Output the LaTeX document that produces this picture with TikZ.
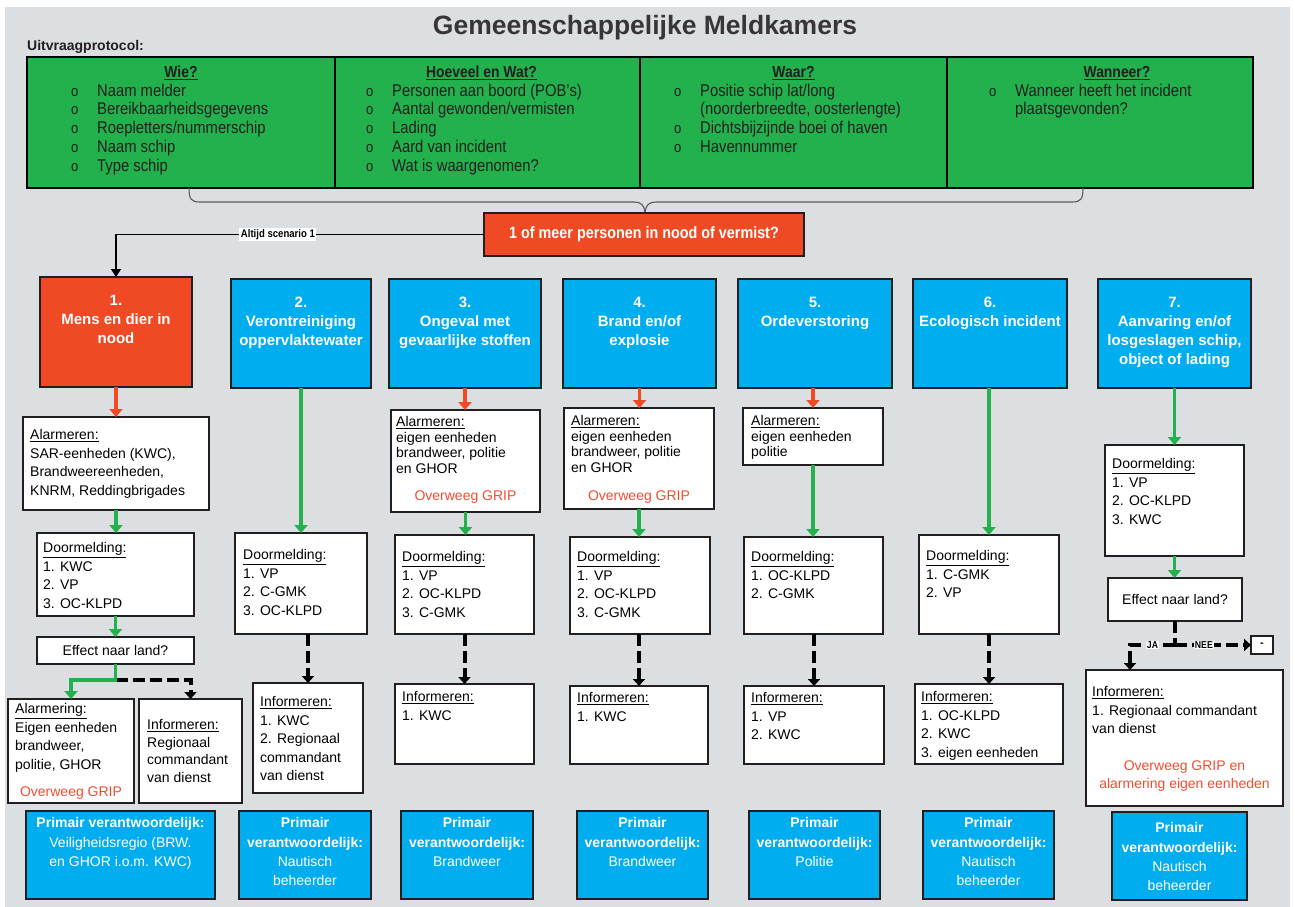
\documentclass[tikz,border=0pt]{standalone}
\usepackage{fontspec}
\setmainfont{Liberation Sans}
\newfontfamily\cnd[FakeStretch=0.87]{Liberation Sans}
\usetikzlibrary{arrows.meta}
\definecolor{bg}{HTML}{DCDFE2}
\definecolor{grn}{HTML}{22B14C}
\definecolor{org}{HTML}{EF4A24}
\definecolor{blu}{HTML}{00ADEE}
\definecolor{rtx}{HTML}{F04E30}
\definecolor{dk}{HTML}{231F20}
\newcommand\bx[6]{\node[#2,minimum width={(#5-#3)*1pt},minimum height={(#6-#4)*1pt}] (#1) at ({(#3+#5)/2},{(#4+#6)/2}) {};}
\newcommand\itm[1]{\makebox[26pt][l]{\fontsize{15}{15}\selectfont o}#1}
\tikzset{
  wbox/.style={draw=dk,line width=1.3pt,fill=white,inner sep=0pt,outer sep=0pt},
  obox/.style={draw=dk,line width=1.5pt,fill=org,inner sep=0pt,outer sep=0pt},
  bbox/.style={draw=dk,line width=1.5pt,fill=blu,inner sep=0pt,outer sep=0pt},
  gcell/.style={draw=black,line width=1.4pt,fill=grn,inner sep=0pt,outer sep=0pt},
  txt/.style={inner sep=0pt,align=left,anchor=north west,text=black,font=\fontsize{14}{18.5}\selectfont},
  tighttxt/.style={font=\fontsize{14}{15.5}\selectfont},
  redtx/.style={inner sep=0pt,align=center,text=rtx,font=\fontsize{14}{18}\selectfont},
  stitle/.style={inner sep=0pt,align=center,anchor=north,text=white,font=\bfseries\fontsize{15}{19.3}\selectfont},
  ptxt/.style={inner sep=0pt,align=center,anchor=north,text=white,font=\fontsize{14}{19.3}\selectfont},
  hd/.style={inner sep=0pt,anchor=base,text=dk,font=\cnd\bfseries\fontsize{16}{18}\selectfont},
  items/.style={inner sep=0pt,align=left,anchor=north west,text=dk,font=\cnd\fontsize{17}{18.75}\selectfont},
  garr/.style={draw=grn,line width=3.6pt,-{Triangle[width=13pt,length=8pt]}},
  rarr/.style={draw=org,line width=3.6pt,-{Triangle[width=13pt,length=8pt]}},
  darr/.style={draw=black,line width=4pt,dash pattern=on 12pt off 5pt,-{Triangle[width=12pt,length=7pt]}},
  dln/.style={draw=black,line width=4pt,dash pattern=on 12pt off 5pt},
  tarr/.style={draw=black,line width=1.3pt,-{Triangle[width=10pt,length=8pt]}},
  lbl/.style={fill=white,inner sep=1pt,text=black,font=\cnd\bfseries\fontsize{10}{10}\selectfont},
}
\begin{document}
\begin{tikzpicture}[x=1pt,y=-1pt]
\useasboundingbox (0,0) rectangle (1295,907);
\fill[white] (0,0) rectangle (1295,907);
\fill[bg] (5,7) rectangle (1290,907);
\node[anchor=base,inner sep=0pt,text=dk!90,font=\bfseries\fontsize{26.5}{30}\selectfont] (title) at (645,35) {Gemeenschappelijke Meldkamers};
\node[anchor=base west,inner sep=0pt,text=dk,font=\bfseries\fontsize{14}{16}\selectfont] (uvp) at (27,51) {Uitvraagprotocol:};
% table
\bx{c1}{gcell}{27}{57}{335}{188}
\bx{c2}{gcell}{335}{57}{640}{188}
\bx{c3}{gcell}{640}{57}{947}{188}
\bx{c4}{gcell}{947}{57}{1253}{188}
\node[hd] (h1) at ([yshift=-20.5pt]c1.north) {\underline{Wie?}};
\node[hd] (h2) at ([xshift=-6pt,yshift=-20.5pt]c2.north) {\underline{Hoeveel en Wat?}};
\node[hd] (h3) at ([yshift=-20.5pt]c3.north) {\underline{Waar?}};
\node[hd] (h4) at ([xshift=17pt,yshift=-20.5pt]c4.north) {\underline{Wanneer?}};
\node[items] (l1) at ([xshift=44pt,yshift=-26.5pt]c1.north west) {\itm{Naam melder}\\\itm{Bereikbaarheidsgegevens}\\\itm{Roepletters/nummerschip}\\\itm{Naam schip}\\\itm{Type schip}};
\node[items] (l2) at ([xshift=31pt,yshift=-26.5pt]c2.north west) {\itm{Personen aan boord (POB’s)}\\\itm{Aantal gewonden/vermisten}\\\itm{Lading}\\\itm{Aard van incident}\\\itm{Wat is waargenomen?}};
\node[items] (l3) at ([xshift=34pt,yshift=-26.5pt]c3.north west) {\itm{Positie schip lat/long}\\\hspace*{26pt}(noorderbreedte, oosterlengte)\\\itm{Dichtsbijzijnde boei of haven}\\\itm{Havennummer}};
\node[items] (l4) at ([xshift=42pt,yshift=-26.5pt]c4.north west) {\itm{Wanneer heeft het incident}\\\hspace*{26pt}plaatsgevonden?};
% brace
\draw[dk!75,line width=1.1pt] (189,188) .. controls (189,199) and (191,202) .. (200,202) -- (634,202) .. controls (641,202) and (644,205) .. (645,212);
\draw[dk!75,line width=1.1pt] (645,212) .. controls (646,205) and (649,202) .. (656,202) -- (1072,202) .. controls (1081,202) and (1083,199) .. (1083,188);
% question
\node[obox,minimum width=320pt,minimum height=43pt,text=white,font=\cnd\bfseries\fontsize{16.5}{18}\selectfont] (q) at (644,234.5) {1 of meer personen in nood of vermist?};
% scenario boxes
\bx{s1}{obox}{40}{277}{192}{387}
\bx{s2}{bbox}{231}{279}{371}{388}
\bx{s3}{bbox}{389}{279}{541}{388}
\bx{s4}{bbox}{563}{279}{716}{388}
\bx{s5}{bbox}{738}{279}{892}{388}
\bx{s6}{bbox}{913}{279}{1067}{388}
\bx{s7}{bbox}{1098}{279}{1251}{388}
\node[stitle] (t1) at ([yshift=-17.5pt]s1.north) {1.\\Mens en dier in\\nood};
\node[stitle] (t2) at ([yshift=-17.5pt]s2.north) {2.\\Verontreiniging\\oppervlaktewater};
\node[stitle] (t3) at ([yshift=-17.5pt]s3.north) {3.\\Ongeval met\\gevaarlijke stoffen};
\node[stitle] (t4) at ([yshift=-17.5pt]s4.north) {4.\\Brand en/of\\explosie};
\node[stitle] (t5) at ([yshift=-17.5pt]s5.north) {5.\\Ordeverstoring};
\node[stitle] (t6) at ([yshift=-17.5pt]s6.north) {6.\\Ecologisch incident};
\node[stitle] (t7) at ([yshift=-17.5pt]s7.north) {7.\\Aanvaring en/of\\losgeslagen schip,\\object of lading};
\draw[tarr] (q.west) -| (s1.north) node[pos=0.28,fill=white,inner sep=1.5pt,text=black,font=\cnd\bfseries\fontsize{11}{12}\selectfont] (alt) {Altijd scenario 1};
% column 1
\bx{a1}{wbox}{23}{417}{209}{510}
\bx{d1}{wbox}{37}{533}{194}{616}
\node[wbox,minimum width=157pt,minimum height=27pt,font=\fontsize{14}{16}\selectfont] (e1) at (115.5,650.5) {Effect naar land?};
\bx{al1}{wbox}{8}{699}{134}{803}
\bx{i1}{wbox}{139}{699}{242}{803}
\node[txt] (a1t) at ([xshift=7pt,yshift=-12.5pt]a1.north west) {\underline{Alarmeren:}\\SAR-eenheden (KWC),\\Brandweereenheden,\\KNRM, Reddingbrigades};
\node[txt] (d1t) at ([xshift=6pt,yshift=-9.5pt]d1.north west) {\underline{Doormelding:}\\1. KWC\\2. VP\\3. OC-KLPD};
\node[txt] (al1t) at ([xshift=7pt,yshift=-4.5pt]al1.north west) {\underline{Alarmering:}\\Eigen eenheden\\brandweer,\\politie, GHOR};
\node[redtx] (al1r) at ([yshift=-94pt]al1.north) {Overweeg GRIP};
\node[txt,font=\fontsize{14}{17.5}\selectfont] (i1t) at ([xshift=8pt,yshift=-20.5pt]i1.north west) {\underline{Informeren:}\\Regionaal\\commandant\\van dienst};
\draw[rarr] (s1.south) -- (s1.south |- a1.north);
\draw[garr] (a1.south) -- (a1.south |- d1.north);
\draw[garr] (d1.south) -- (d1.south |- e1.north);
\path (e1.south) ++(0,16) coordinate (j1);
\draw[dln] (j1) -| ([yshift=8pt]i1.north);
\draw[darr] ([yshift=9pt]i1.north) -- (i1.north);
\draw[garr] (e1.south) -- (j1) -| (al1.north);
% column 2
\bx{d2}{wbox}{235}{533}{367}{634}
\bx{i2}{wbox}{253}{683}{363}{793}
\node[txt] (d2t) at ([xshift=8pt,yshift=-16.5pt]d2.north west) {\underline{Doormelding:}\\1. VP\\2. C-GMK\\3. OC-KLPD};
\node[txt] (i2t) at ([xshift=7pt,yshift=-13.5pt]i2.north west) {\underline{Informeren:}\\1. KWC\\2. Regionaal\\commandant\\van dienst};
\draw[garr] (s2.south) -- (s2.south |- d2.north);
\draw[darr] (i2.north |- d2.south) -- (i2.north);
% column 3
\bx{a3}{wbox}{391}{410}{540}{512}
\bx{d3}{wbox}{395}{535}{534}{634}
\bx{i3}{wbox}{395}{684}{534}{764}
\node[txt,tighttxt] (a3t) at ([xshift=5pt,yshift=-6.5pt]a3.north west) {\underline{Alarmeren:}\\eigen eenheden\\brandweer, politie\\en GHOR};
\node[redtx] (a3r) at ([yshift=-87pt]a3.north) {Overweeg GRIP};
\node[txt] (d3t) at ([xshift=7pt,yshift=-16.5pt]d3.north west) {\underline{Doormelding:}\\1. VP\\2. OC-KLPD\\3. C-GMK};
\node[txt] (i3t) at ([xshift=7pt,yshift=-7.5pt]i3.north west) {\underline{Informeren:}\\1. KWC};
\draw[rarr] (s3.south) -- (s3.south |- a3.north);
\draw[garr] (a3.south) -- (a3.south |- d3.north);
\draw[darr] (i3.north |- d3.south) -- (i3.north);
% column 4
\bx{a4}{wbox}{564}{408}{714}{509}
\bx{d4}{wbox}{570}{537}{710}{634}
\bx{i4}{wbox}{570}{686}{708}{764}
\node[txt,tighttxt] (a4t) at ([xshift=7pt,yshift=-7.5pt]a4.north west) {\underline{Alarmeren:}\\eigen eenheden\\brandweer, politie\\en GHOR};
\node[redtx] (a4r) at ([yshift=-89pt]a4.north) {Overweeg GRIP};
\node[txt] (d4t) at ([xshift=7pt,yshift=-14.5pt]d4.north west) {\underline{Doormelding:}\\1. VP\\2. OC-KLPD\\3. C-GMK};
\node[txt] (i4t) at ([xshift=7pt,yshift=-6.5pt]i4.north west) {\underline{Informeren:}\\1. KWC};
\draw[rarr] (s4.south) -- (s4.south |- a4.north);
\draw[garr] (a4.south) -- (a4.south |- d4.north);
\draw[darr] (i4.north |- d4.south) -- (i4.north);
% column 5
\bx{a5}{wbox}{743}{408}{883}{465}
\bx{d5}{wbox}{744}{537}{883}{634}
\bx{i5}{wbox}{744}{686}{884}{764}
\node[txt,tighttxt] (a5t) at ([xshift=8pt,yshift=-7.5pt]a5.north west) {\underline{Alarmeren:}\\eigen eenheden\\politie};
\node[txt] (d5t) at ([xshift=7pt,yshift=-14.5pt]d5.north west) {\underline{Doormelding:}\\1. OC-KLPD\\2. C-GMK};
\node[txt] (i5t) at ([xshift=7pt,yshift=-6.5pt]i5.north west) {\underline{Informeren:}\\1. VP\\2. KWC};
\draw[rarr] (a5.north |- s5.south) -- (a5.north);
\draw[garr] (a5.south) -- (a5.south |- d5.north);
\draw[darr] (i5.north |- d5.south) -- (i5.north);
% column 6
\bx{d6}{wbox}{919}{535}{1059}{634}
\bx{i6}{wbox}{915}{684}{1063}{764}
\node[txt] (d6t) at ([xshift=7pt,yshift=-15.5pt]d6.north west) {\underline{Doormelding:}\\1. C-GMK\\2. VP};
\node[txt] (i6t) at ([xshift=6pt,yshift=-7.5pt]i6.north west) {\underline{Informeren:}\\1. OC-KLPD\\2. KWC\\3. eigen eenheden};
\draw[garr] (d6.north |- s6.south) -- (d6.north);
\draw[darr] (i6.north |- d6.south) -- (i6.north);
% column 7
\bx{d7}{wbox}{1105}{445}{1244}{556}
\node[wbox,minimum width=134pt,minimum height=43pt,font=\fontsize{14}{16}\selectfont] (e7) at (1175,599.5) {Effect naar land?};
\bx{i7}{wbox}{1086}{670}{1283}{806}
\node[wbox,minimum width=22pt,minimum height=18pt,font=\bfseries\fontsize{11}{12}\selectfont] (nb) at (1262,645) {-};
\node[txt] (d7t) at ([xshift=7pt,yshift=-13.5pt]d7.north west) {\underline{Doormelding:}\\1. VP\\2. OC-KLPD\\3. KWC};
\node[txt] (i7t) at ([xshift=6pt,yshift=-16.5pt]i7.north west) {\underline{Informeren:}\\1. Regionaal commandant\\van dienst};
\node[redtx] (i7r) at ([yshift=-106pt]i7.north) {Overweeg GRIP en\\alarmering eigen eenheden};
\draw[garr] (d7.north |- s7.south) -- (d7.north);
\draw[garr] (d7.south) -- (d7.south |- e7.north);
\coordinate (j7) at (e7.south |- nb.west);
\coordinate (k7) at (1130,645);
\draw[dln] (e7.south) -- (j7);
\draw[darr] (j7) -- (k7) node[lbl,pos=0.5] (ja) {JA} -- (k7 |- i7.north);
\draw[darr] (j7) -- (nb.west) node[lbl,pos=0.38] (nee) {NEE};
% bottom responsibility boxes
\bx{p1}{bbox}{26}{811}{215}{899}
\bx{p2}{bbox}{239}{811}{371}{899}
\bx{p3}{bbox}{401}{811}{533}{899}
\bx{p4}{bbox}{577}{811}{708}{899}
\bx{p5}{bbox}{749}{811}{880}{899}
\bx{p6}{bbox}{923}{811}{1054}{899}
\bx{p7}{bbox}{1112}{812}{1247}{900}
\node[ptxt] (p1t) at ([yshift=-6.5pt]p1.north) {\textbf{Primair verantwoordelijk:}\\Veiligheidsregio (BRW.\\en GHOR i.o.m. KWC)};
\node[ptxt] (p2t) at ([yshift=-6.5pt]p2.north) {\textbf{Primair}\\\textbf{verantwoordelijk:}\\Nautisch\\beheerder};
\node[ptxt] (p3t) at ([yshift=-6.5pt]p3.north) {\textbf{Primair}\\\textbf{verantwoordelijk:}\\Brandweer};
\node[ptxt] (p4t) at ([yshift=-6.5pt]p4.north) {\textbf{Primair}\\\textbf{verantwoordelijk:}\\Brandweer};
\node[ptxt] (p5t) at ([yshift=-6.5pt]p5.north) {\textbf{Primair}\\\textbf{verantwoordelijk:}\\Politie};
\node[ptxt] (p6t) at ([yshift=-6.5pt]p6.north) {\textbf{Primair}\\\textbf{verantwoordelijk:}\\Nautisch\\beheerder};
\node[ptxt] (p7t) at ([yshift=-10.5pt]p7.north) {\textbf{Primair}\\\textbf{verantwoordelijk:}\\Nautisch\\beheerder};
\end{tikzpicture}
\end{document}
